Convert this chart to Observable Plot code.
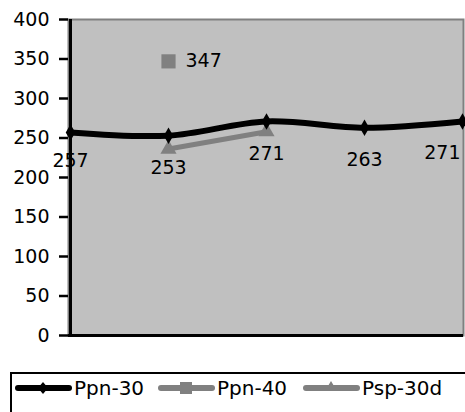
<!DOCTYPE html>
<html>
<head>
<meta charset="utf-8">
<script src="https://cdn.jsdelivr.net/npm/d3@7"></script>
<script src="https://cdn.jsdelivr.net/npm/@observablehq/plot@0.6"></script>
<style>
  body { margin: 0; background: #fff; font-family: "DejaVu Sans", sans-serif; overflow: hidden; }
  #chart svg { display: block; }
  #legend {
    position: absolute; left: 10px; top: 372px; width: 470px; height: 50px;
    border: 2px solid #000; box-sizing: border-box; background: #fff;
    font-size: 20px; color: #000;
  }
  .item { position: absolute; top: 2px; display: flex; align-items: center; height: 24px; }
  .item svg { display: block; margin-right: 2px; }
</style>
</head>
<body>
<div id="chart"></div>
<div id="legend"></div>
<script>
const categories = [1, 2, 3, 4, 5];
const ppn30 = [257, 253, 271, 263, 271];
const ppn40 = [null, 347, null, null, null];
const psp30d = [null, 236, 258, null, null];
const yTicks = [0, 50, 100, 150, 200, 250, 300, 350, 400];
const seriesNames = ["Ppn-30", "Ppn-40", "Psp-30d"];

const d30 = categories.map((c, i) => ({x: c, y: ppn30[i], i}));
const d40 = categories.map((c, i) => ({x: c, y: ppn40[i]})).filter(d => d.y != null);
const dsp = categories.map((c, i) => ({x: c, y: psp30d[i]})).filter(d => d.y != null);

const font = '"DejaVu Sans", sans-serif';

const chart = Plot.plot({
  width: 465,
  height: 360,
  marginTop: 19,
  marginBottom: 25,
  marginLeft: 68,
  marginRight: 2,
  style: {fontFamily: font, fontSize: "19px", background: "#fff", color: "#000"},
  x: {type: "point", domain: categories, padding: 0, axis: null},
  y: {domain: [0, 400], ticks: yTicks, label: null},
  marks: [
    Plot.frame({fill: "#c0c0c0", stroke: "#808080", strokeWidth: 2}),
    Plot.axisY({ticks: yTicks, tickSize: 9, tickPadding: 10, strokeWidth: 2.5, fontSize: 19, fill: "#000", label: null}),
    Plot.ruleY([0], {stroke: "#000", strokeWidth: 3}),
    Plot.ruleX([categories[0]], {y1: 0, y2: 400, stroke: "#000", strokeWidth: 3}),
    Plot.line(dsp, {x: "x", y: "y", stroke: "#808080", strokeWidth: 5}),
    Plot.dot(dsp, {x: "x", y: "y", symbol: "triangle", r: 6, fill: "#808080"}),
    Plot.line(d30, {x: "x", y: "y", stroke: "#000", strokeWidth: 6, curve: "catmull-rom"}),
    Plot.dot(d30, {x: "x", y: "y", symbol: "diamond", r: 5, fill: "#000"}),
    Plot.dot(d40, {x: "x", y: "y", symbol: "square", r: 8, fill: "#808080"}),
    Plot.text(d40, {x: "x", y: "y", text: d => String(d.y), dx: 17, textAnchor: "start", fontSize: 19, fill: "#000"}),
    Plot.text(d30.filter(d => d.i === 0), {x: "x", y: "y", text: d => String(d.y), dy: 28, fontSize: 19, fill: "#000"}),
    Plot.text(d30.filter(d => d.i > 0 && d.i < 4), {x: "x", y: "y", text: d => String(d.y), dy: 32, fontSize: 19, fill: "#000"}),
    Plot.text(d30.filter(d => d.i === 4), {x: "x", y: "y", text: d => String(d.y), dy: 31, dx: -2, textAnchor: "end", fontSize: 19, fill: "#000"})
  ]
});
document.getElementById("chart").appendChild(chart);

const swatches = [
  {color: "#000", sym: "diamond", left: 3},
  {color: "#808080", sym: "square", left: 146},
  {color: "#808080", sym: "triangle", left: 291}
];
const legend = document.getElementById("legend");
seriesNames.forEach((name, k) => {
  const s = swatches[k];
  let marker = "";
  if (s.sym === "diamond") marker = `<path d="M28,5 L33,11 L28,17 L23,11 Z" fill="${s.color}"/>`;
  if (s.sym === "square") marker = `<rect x="22" y="5" width="12" height="12" fill="${s.color}"/>`;
  if (s.sym === "triangle") marker = `<path d="M28,4 L34,14 L22,14 Z" fill="${s.color}"/>`;
  const div = document.createElement("div");
  div.className = "item";
  div.style.left = s.left + "px";
  div.innerHTML = `<svg width="57" height="22"><line x1="3" y1="11" x2="54" y2="11" stroke="${s.color}" stroke-width="6" stroke-linecap="round"/>${marker}</svg><span>${name}</span>`;
  legend.appendChild(div);
});
</script>
</body>
</html>
